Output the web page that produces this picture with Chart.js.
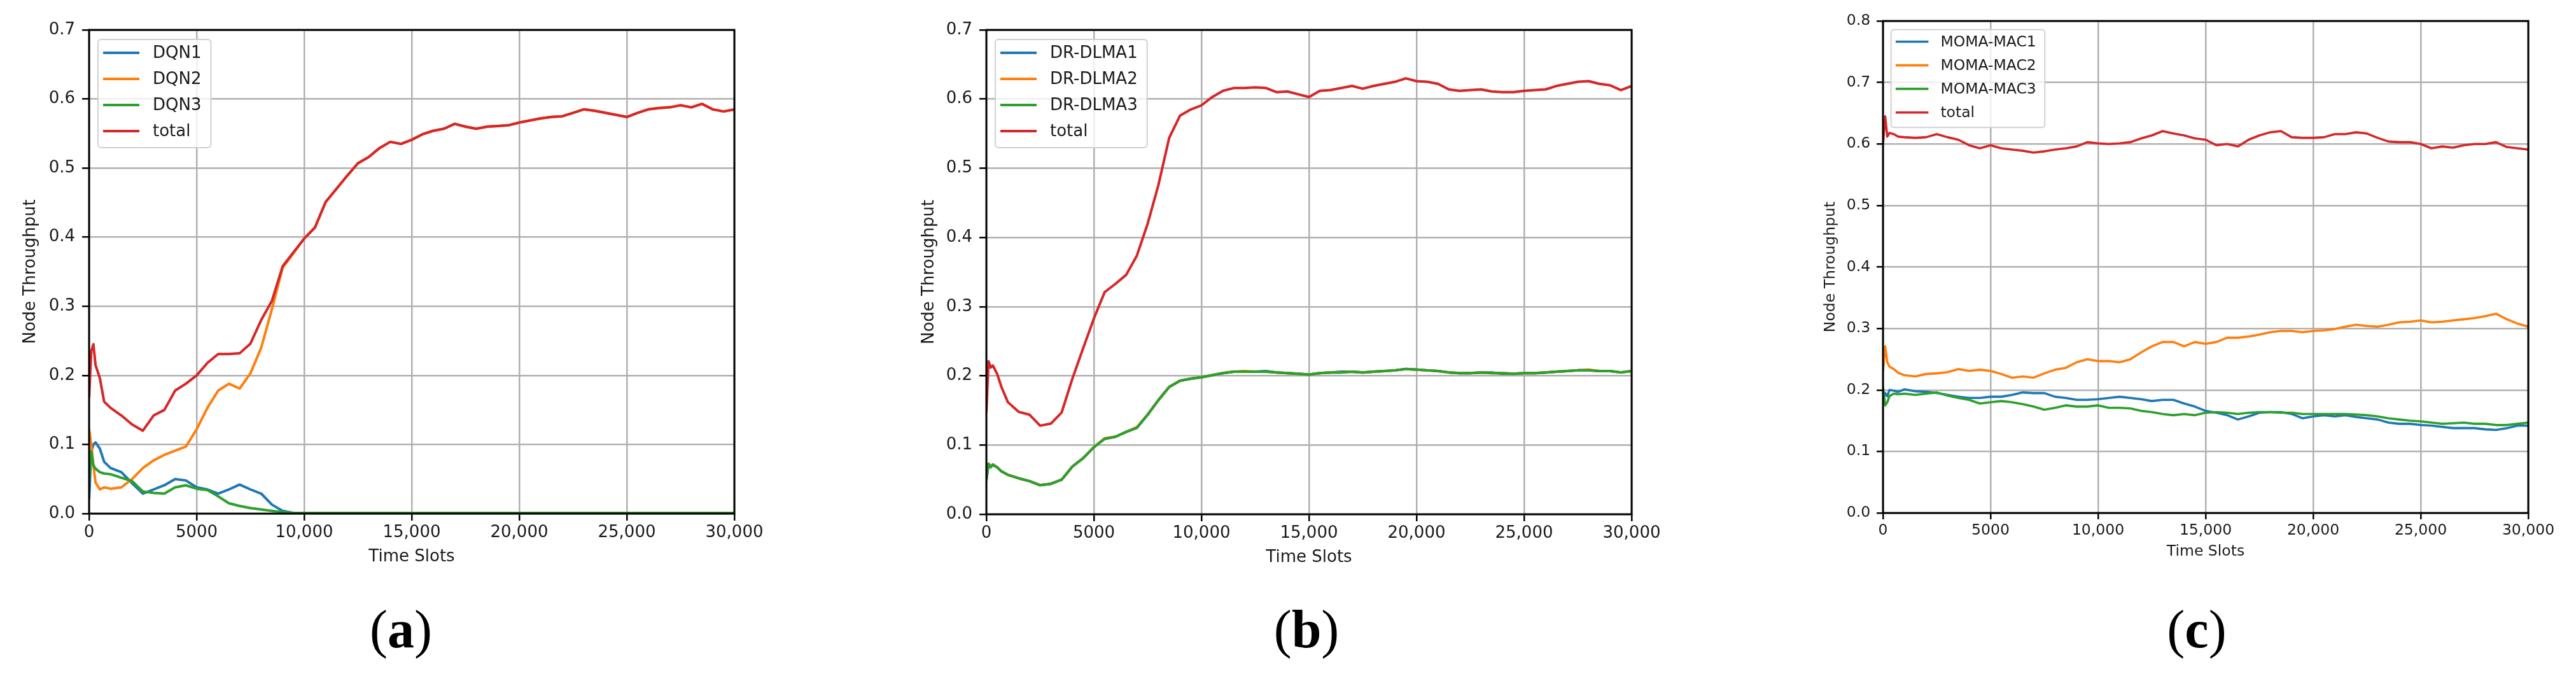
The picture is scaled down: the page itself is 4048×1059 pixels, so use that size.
<!DOCTYPE html>
<html>
<head>
<meta charset="utf-8">
<script src="https://cdn.jsdelivr.net/npm/chart.js@4.4.1/dist/chart.umd.min.js"></script>
<style>
  body { margin: 0; background: #fff; width: 4048px; height: 1059px; position: relative; overflow: hidden; }
  canvas { position: absolute; top: 0; }
  .cap { position: absolute; top: 947px; width: 300px; text-align: center;
         font-family: 'Liberation Serif', serif; font-size: 84px; line-height: 84px; color: #000; }
</style>
</head>
<body>
<canvas id="chartA" width="1214" height="1000" style="left:0px"></canvas>
<canvas id="chartB" width="1214" height="1000" style="left:1410px"></canvas>
<canvas id="chartC" width="1214" height="1000" style="left:2819px"></canvas>
<div class="cap" style="left:480px">(<b>a</b>)</div>
<div class="cap" style="left:1903px">(<b>b</b>)</div>
<div class="cap" style="left:3302px">(<b>c</b>)</div>
<script>
const steps = [0, 100, 200, 300, 500, 700,
  1000, 1500, 2000, 2500, 3000, 3500, 4000, 4500, 5000, 5500,
  6000, 6500, 7000, 7500, 8000, 8500, 9000, 9500, 10000, 10500,
  11000, 11500, 12000, 12500, 13000, 13500, 14000, 14500, 15000, 15500,
  16000, 16500, 17000, 17500, 18000, 18500, 19000, 19500, 20000, 20500,
  21000, 21500, 22000, 22500, 23000, 23500, 24000, 24500, 25000, 25500,
  26000, 26500, 27000, 27500, 28000, 28500, 29000, 29500, 30000];

// (a) DQN
const dqn1 = [0.020, 0.090, 0.100, 0.103, 0.094, 0.075,
  0.066, 0.060, 0.044, 0.029, 0.035, 0.041, 0.050, 0.048, 0.038, 0.035,
  0.029, 0.035, 0.042, 0.035, 0.029, 0.013, 0.004, 0.001, 0.001, 0.001,
  0.001, 0.001, 0.001, 0.001, 0.001, 0.001, 0.001, 0.001, 0.001, 0.001,
  0.001, 0.001, 0.001, 0.001, 0.001, 0.001, 0.001, 0.001, 0.001, 0.001,
  0.001, 0.001, 0.001, 0.001, 0.001, 0.001, 0.001, 0.001, 0.001, 0.001,
  0.001, 0.001, 0.001, 0.001, 0.001, 0.001, 0.001, 0.001, 0.001];
const dqn2 = [0.122, 0.100, 0.070, 0.045, 0.035, 0.038,
  0.036, 0.038, 0.050, 0.066, 0.077, 0.085, 0.091, 0.097, 0.122, 0.153,
  0.178, 0.188, 0.181, 0.203, 0.240, 0.296, 0.356, 0.377, 0.398, 0.414,
  0.451, 0.470, 0.489, 0.507, 0.516, 0.529, 0.538, 0.535, 0.541, 0.549,
  0.554, 0.557, 0.564, 0.560, 0.557, 0.560, 0.561, 0.562, 0.566, 0.569,
  0.572, 0.574, 0.575, 0.580, 0.585, 0.583, 0.580, 0.577, 0.574, 0.580,
  0.585, 0.587, 0.588, 0.591, 0.588, 0.593, 0.585, 0.582, 0.585];
const dqn3 = [0.050, 0.090, 0.070, 0.065, 0.060, 0.058,
  0.057, 0.052, 0.047, 0.032, 0.030, 0.029, 0.038, 0.041, 0.036, 0.034,
  0.025, 0.015, 0.011, 0.008, 0.006, 0.004, 0.002, 0.001, 0.001, 0.001,
  0.001, 0.001, 0.001, 0.001, 0.001, 0.001, 0.001, 0.001, 0.001, 0.001,
  0.001, 0.001, 0.001, 0.001, 0.001, 0.001, 0.001, 0.001, 0.001, 0.001,
  0.001, 0.001, 0.001, 0.001, 0.001, 0.001, 0.001, 0.001, 0.001, 0.001,
  0.001, 0.001, 0.001, 0.001, 0.001, 0.001, 0.001, 0.001, 0.001];
const dqnTotal = [0.168, 0.235, 0.245, 0.215, 0.196, 0.162,
  0.153, 0.142, 0.129, 0.120, 0.142, 0.150, 0.178, 0.188, 0.200, 0.218,
  0.231, 0.231, 0.232, 0.246, 0.280, 0.308, 0.358, 0.378, 0.398, 0.414,
  0.451, 0.470, 0.489, 0.507, 0.516, 0.529, 0.538, 0.535, 0.541, 0.549,
  0.554, 0.557, 0.564, 0.560, 0.557, 0.560, 0.561, 0.562, 0.566, 0.569,
  0.572, 0.574, 0.575, 0.580, 0.585, 0.583, 0.580, 0.577, 0.574, 0.580,
  0.585, 0.587, 0.588, 0.591, 0.588, 0.593, 0.585, 0.582, 0.585];

// (b) DR-DLMA
const dlma1 = [0.049, 0.072, 0.068, 0.071, 0.068, 0.062,
  0.057, 0.052, 0.048, 0.042, 0.044, 0.050, 0.069, 0.081, 0.097, 0.109,
  0.112, 0.119, 0.125, 0.144, 0.165, 0.184, 0.193, 0.196, 0.198, 0.201,
  0.204, 0.206, 0.206, 0.206, 0.207, 0.205, 0.204, 0.203, 0.202, 0.204,
  0.205, 0.206, 0.206, 0.205, 0.206, 0.207, 0.208, 0.210, 0.209, 0.208,
  0.207, 0.205, 0.204, 0.204, 0.205, 0.205, 0.203, 0.203, 0.204, 0.204,
  0.205, 0.206, 0.207, 0.208, 0.208, 0.207, 0.207, 0.205, 0.207];
const dlma2 = [0.050, 0.073, 0.069, 0.072, 0.068, 0.062,
  0.057, 0.052, 0.048, 0.042, 0.044, 0.050, 0.069, 0.081, 0.097, 0.110,
  0.112, 0.119, 0.126, 0.144, 0.165, 0.184, 0.193, 0.196, 0.198, 0.201,
  0.204, 0.206, 0.207, 0.206, 0.206, 0.205, 0.204, 0.203, 0.202, 0.204,
  0.205, 0.205, 0.206, 0.205, 0.206, 0.207, 0.208, 0.210, 0.209, 0.208,
  0.207, 0.205, 0.204, 0.204, 0.205, 0.204, 0.204, 0.203, 0.204, 0.204,
  0.205, 0.206, 0.207, 0.208, 0.209, 0.207, 0.207, 0.205, 0.207];
const dlma3 = [0.050, 0.073, 0.068, 0.072, 0.068, 0.062,
  0.057, 0.052, 0.048, 0.042, 0.044, 0.050, 0.069, 0.081, 0.097, 0.109,
  0.112, 0.119, 0.125, 0.144, 0.165, 0.184, 0.193, 0.196, 0.198, 0.201,
  0.204, 0.206, 0.206, 0.206, 0.206, 0.205, 0.204, 0.203, 0.202, 0.204,
  0.205, 0.205, 0.206, 0.205, 0.206, 0.207, 0.208, 0.210, 0.209, 0.208,
  0.207, 0.205, 0.204, 0.204, 0.205, 0.204, 0.204, 0.203, 0.204, 0.204,
  0.205, 0.206, 0.207, 0.208, 0.208, 0.207, 0.207, 0.205, 0.207];
const dlmaTotal = [0.147, 0.221, 0.212, 0.215, 0.203, 0.184,
  0.162, 0.148, 0.144, 0.128, 0.131, 0.147, 0.196, 0.240, 0.283, 0.321,
  0.333, 0.346, 0.374, 0.420, 0.476, 0.544, 0.576, 0.585, 0.591, 0.603,
  0.612, 0.616, 0.616, 0.617, 0.616, 0.610, 0.611, 0.607, 0.603, 0.612,
  0.613, 0.616, 0.619, 0.615, 0.619, 0.622, 0.625, 0.630, 0.626, 0.625,
  0.622, 0.614, 0.612, 0.613, 0.614, 0.611, 0.610, 0.610, 0.612, 0.613,
  0.614, 0.619, 0.622, 0.625, 0.626, 0.622, 0.620, 0.613, 0.619];

// (c) MOMA-MAC
const moma1 = [0.180, 0.195, 0.190, 0.200, 0.199, 0.197,
  0.201, 0.198, 0.197, 0.195, 0.192, 0.189, 0.187, 0.187, 0.189, 0.189,
  0.192, 0.196, 0.195, 0.195, 0.189, 0.187, 0.184, 0.184, 0.185, 0.187,
  0.189, 0.187, 0.185, 0.182, 0.184, 0.184, 0.178, 0.173, 0.166, 0.163,
  0.159, 0.152, 0.157, 0.163, 0.164, 0.164, 0.161, 0.154, 0.157, 0.159,
  0.157, 0.159, 0.156, 0.154, 0.152, 0.147, 0.145, 0.145, 0.143, 0.142,
  0.140, 0.138, 0.138, 0.138, 0.136, 0.135, 0.138, 0.142, 0.142];
const moma2 = [0.230, 0.271, 0.245, 0.238, 0.234, 0.228,
  0.224, 0.222, 0.226, 0.227, 0.229, 0.234, 0.231, 0.233, 0.231, 0.226,
  0.220, 0.222, 0.220, 0.227, 0.233, 0.236, 0.245, 0.250, 0.247, 0.247,
  0.245, 0.250, 0.261, 0.271, 0.278, 0.278, 0.271, 0.278, 0.275, 0.278,
  0.285, 0.285, 0.287, 0.290, 0.294, 0.296, 0.296, 0.294, 0.296, 0.297,
  0.299, 0.303, 0.306, 0.304, 0.303, 0.306, 0.310, 0.311, 0.313, 0.310,
  0.311, 0.313, 0.315, 0.317, 0.320, 0.324, 0.315, 0.308, 0.303];
const moma3 = [0.205, 0.175, 0.180, 0.190, 0.194, 0.193,
  0.194, 0.192, 0.194, 0.196, 0.191, 0.187, 0.184, 0.178, 0.180, 0.182,
  0.180, 0.177, 0.173, 0.168, 0.171, 0.175, 0.173, 0.173, 0.175, 0.171,
  0.171, 0.170, 0.166, 0.164, 0.161, 0.159, 0.161, 0.159, 0.163, 0.164,
  0.163, 0.161, 0.163, 0.164, 0.164, 0.163, 0.163, 0.161, 0.161, 0.161,
  0.161, 0.161, 0.160, 0.159, 0.157, 0.154, 0.152, 0.150, 0.149, 0.147,
  0.145, 0.146, 0.147, 0.145, 0.145, 0.143, 0.143, 0.145, 0.147];
const momaTotal = [0.600, 0.645, 0.612, 0.618, 0.616, 0.612,
  0.611, 0.610, 0.611, 0.616, 0.611, 0.607, 0.598, 0.593, 0.598, 0.593,
  0.591, 0.589, 0.586, 0.588, 0.591, 0.593, 0.596, 0.603, 0.601, 0.600,
  0.601, 0.603, 0.609, 0.614, 0.621, 0.617, 0.614, 0.609, 0.607, 0.598,
  0.600, 0.596, 0.607, 0.614, 0.619, 0.621, 0.611, 0.610, 0.610, 0.611,
  0.616, 0.616, 0.619, 0.617, 0.610, 0.604, 0.603, 0.603, 0.600, 0.593,
  0.596, 0.594, 0.598, 0.600, 0.600, 0.603, 0.595, 0.593, 0.591];

const xTickLabels = ['0', '5000', '10,000', '15,000', '20,000', '25,000', '30,000'];
const yTickLabels7 = ['0.0', '0.1', '0.2', '0.3', '0.4', '0.5', '0.6', '0.7'];
const yTickLabels8 = ['0.0', '0.1', '0.2', '0.3', '0.4', '0.5', '0.6', '0.7', '0.8'];
const seriesColors = ['#1f77b4', '#ff7f0e', '#2ca02c', '#d62728'];

const FONT = 'DejaVu Sans';
const TEXT = '#1a1a1a';

// box round the plot + legend in the upper left corner, like matplotlib
const frameAndLegend = {
  id: 'frameAndLegend',
  afterDatasetsDraw(chart) {
    const a = chart.chartArea, ctx = chart.ctx;
    ctx.save();
    ctx.strokeStyle = '#000';
    ctx.lineWidth = 3;
    ctx.strokeRect(a.left, a.top, a.right - a.left, a.bottom - a.top);
    ctx.restore();
  },
  afterDraw(chart) {
    const a = chart.chartArea, ctx = chart.ctx;
    const fs = chart.options.plugins.frameAndLegend.fontSize;
    const k = fs / 26;
    const sets = chart.data.datasets;
    ctx.save();
    ctx.font = fs + 'px "' + FONT + '"';
    let maxW = 0;
    sets.forEach(d => { maxW = Math.max(maxW, ctx.measureText(d.label).width); });
    const bx = a.left + 14 * k, by = a.top + 15 * k;
    const bw = 86 * k + maxW + 15 * k, bh = 170 * k;
    ctx.beginPath();
    ctx.roundRect(bx, by, bw, bh, 5 * k);
    ctx.fillStyle = 'rgba(255,255,255,0.8)';
    ctx.fill();
    ctx.strokeStyle = '#d0d0d0';
    ctx.lineWidth = 2;
    ctx.stroke();
    sets.forEach((d, i) => {
      const y = a.top + (36 + 41 * i) * k;
      ctx.beginPath();
      ctx.moveTo(a.left + 22 * k, y);
      ctx.lineTo(a.left + 79 * k, y);
      ctx.strokeStyle = d.borderColor;
      ctx.lineWidth = 4 * k;
      ctx.stroke();
      ctx.fillStyle = TEXT;
      ctx.textBaseline = 'middle';
      ctx.textAlign = 'left';
      ctx.fillText(d.label, a.left + 100 * k, y + 1);
    });
    ctx.restore();
  }
};

function makePanel(id, names, series, yTicks, p) {
  const k = p.fontSize / 26;
  const datasets = names.map((name, i) => ({
    label: name,
    data: steps.map((s, j) => ({ x: s, y: series[i][j] })),
    borderColor: seriesColors[i],
    borderWidth: p.lineWidth,
    pointRadius: 0,
    tension: 0,
    fill: false,
    borderJoinStyle: 'round',
    order: names.length - i
  }));
  const grid = { color: '#b0b0b0', lineWidth: 2.5, tickColor: '#000', tickWidth: 2.5, tickLength: 11 * k };
  const tickFont = { family: FONT, size: p.fontSize };
  new Chart(document.getElementById(id), {
    type: 'line',
    data: { datasets: datasets },
    options: {
      responsive: false,
      animation: false,
      devicePixelRatio: 1,
      events: [],
      layout: { padding: { left: 0, top: p.top, right: 60, bottom: 1000 - p.bottom - 110 } },
      plugins: {
        legend: { display: false },
        tooltip: { enabled: false },
        frameAndLegend: { fontSize: p.fontSize }
      },
      scales: {
        x: {
          type: 'linear', min: 0, max: 30000,
          border: { display: false },
          grid: grid,
          ticks: {
            stepSize: 5000, autoSkip: false, maxRotation: 0, padding: 4 * k,
            color: TEXT, font: tickFont,
            callback: v => xTickLabels[Math.round(v / 5000)]
          },
          title: { display: true, text: 'Time Slots', color: TEXT, font: tickFont,
                   padding: { top: 0, bottom: p.xTitlePad } },
          afterFit: s => { s.height = 110; }
        },
        y: {
          min: 0, max: yTicks.length - 1 === 8 ? 0.8 : 0.7,
          border: { display: false },
          grid: grid,
          ticks: {
            stepSize: 0.1, padding: 11 * k,
            color: TEXT, font: tickFont,
            callback: v => yTicks[Math.round(v * 10)]
          },
          title: { display: true, text: 'Node Throughput', color: TEXT, font: tickFont,
                   padding: { top: p.yTitlePad, bottom: 0 } },
          afterFit: s => { s.width = 140; }
        }
      }
    },
    plugins: [frameAndLegend]
  });
}

makePanel('chartA', ['DQN1', 'DQN2', 'DQN3', 'total'],
  [dqn1, dqn2, dqn3, dqnTotal], yTickLabels7,
  { fontSize: 26, lineWidth: 4, top: 47, bottom: 807, xTitlePad: 26, yTitlePad: 33 });
makePanel('chartB', ['DR-DLMA1', 'DR-DLMA2', 'DR-DLMA3', 'total'],
  [dlma1, dlma2, dlma3, dlmaTotal], yTickLabels7,
  { fontSize: 26, lineWidth: 4, top: 47, bottom: 808, xTitlePad: 26, yTitlePad: 35 });
makePanel('chartC', ['MOMA-MAC1', 'MOMA-MAC2', 'MOMA-MAC3', 'total'],
  [moma1, moma2, moma3, momaTotal], yTickLabels8,
  { fontSize: 23.5, lineWidth: 3.6, top: 33, bottom: 806, xTitlePad: 35, yTitlePad: 44 });
</script>
</body>
</html>
